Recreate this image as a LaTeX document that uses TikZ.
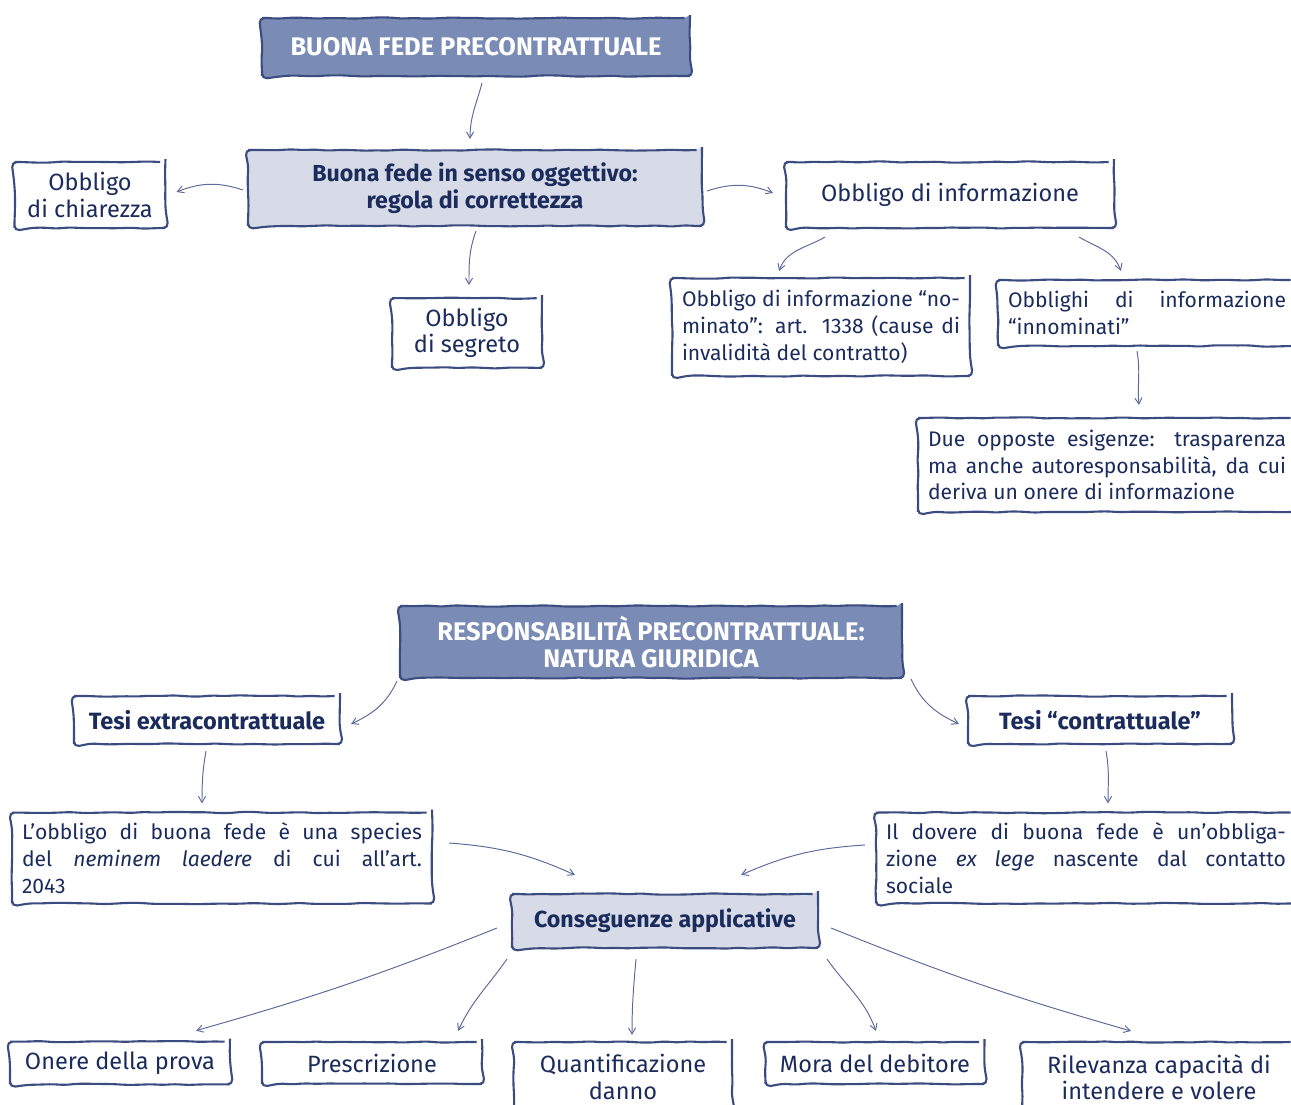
\documentclass[tikz,border=0pt]{standalone}
\usepackage{fontspec}
\setmainfont{Fira Sans}
\usetikzlibrary{arrows}
\usetikzlibrary{calc}
\usetikzlibrary{decorations.pathmorphing}
\definecolor{navy}{HTML}{1B2C5C}
\definecolor{boxline}{HTML}{3B4C80}
\definecolor{titlefill}{HTML}{7A8CB5}
\definecolor{keyfill}{HTML}{D6DBE7}
\definecolor{arrowline}{HTML}{5B6A98}
\newcommand\mapfont{\fontsize{13.4}{15}\selectfont}
\newcommand\parfont{\fontsize{12}{15.3}\selectfont}
\tikzset{
	main node/.style={draw=boxline,line width=1.2pt,rounded corners=3pt,
		decorate,decoration={random steps,segment length=7pt,amplitude=0.4pt},
		fill=white,inner sep=0.2cm,align=center,text=navy,font=\mapfont},
	key node/.style={main node,fill=keyfill,font=\fontsize{13.2}{15.5}\selectfont\bfseries},
	bold node/.style={main node,font=\fontsize{13.4}{15.5}\selectfont\bfseries},
	title node/.style={main node,fill=titlefill,text=white,font=\fontsize{14.5}{15.5}\selectfont\bfseries},
	text node/.style={main node,align=justify,font=\parfont},
	arr/.style={->,draw=arrowline,line width=0.55pt}
}
\pgfmathsetseed{7}

\begin{document}
\begin{tikzpicture}[x=0.02cm,y=-0.02cm,>=angle 60]
	\useasboundingbox (0,0) rectangle (1291,1105);
	\clip (0,0) rectangle (1291,1105);
	% buona fede precontrattuale
	\node [title node,minimum width=8.56cm,minimum height=1.16cm] (t1) at (476,47) {BUONA FEDE PRECONTRATTUALE};
	\node [key node,minimum width=9.08cm,minimum height=1.52cm] (bf) at (475,188) {Buona fede in senso oggettivo:\\regola di correttezza};
	\node [main node,minimum width=3.02cm,minimum height=1.32cm] (ch) at (90,195) {Obbligo\\di chiarezza};
	\node [main node,minimum width=3.0cm,minimum height=1.32cm] (seg) at (467,333) {Obbligo\\di segreto};
	\node [main node,minimum width=6.56cm,minimum height=1.32cm] (inf) at (950,195) {Obbligo di informazione};
	\node [text node,text width=5.56cm,minimum height=1.96cm] (nom) at (821,327) {Obbligo di informazione “no-\linebreak minato”: art. 1338 (cause di\linebreak invalidità del contratto)};
	\node [text node,text width=5.56cm,minimum height=1.32cm] (inn) at (1147,313) {Obblighi di informazione\linebreak “innominati”};
	\node [text node,text width=7.16cm,minimum height=1.88cm] (due) at (1107,465) {Due opposte esigenze: trasparenza\linebreak ma anche autoresponsabilità, da cui\linebreak deriva un onere di informazione};
	% responsabilita precontrattuale
	\node [title node,minimum width=10.04cm,minimum height=1.44cm] (t2) at (651,642) {RESPONSABILITÀ PRECONTRATTUALE:\\NATURA GIURIDICA};
	\node [bold node,minimum width=5.32cm,minimum height=0.96cm] (ex) at (207,720) {Tesi extracontrattuale};
	\node [bold node,minimum width=5.28cm,minimum height=0.96cm] (con) at (1100,720) {Tesi “contrattuale”};
	\node [text node,text width=8.0cm,minimum height=1.76cm] (lob) at (222,858) {L’obbligo di buona fede è una species\linebreak del \textit{neminem laedere} di cui all’art.\linebreak 2043};
	\node [text node,text width=8.0cm,minimum height=1.76cm] (dov) at (1086,858) {Il dovere di buona fede è un’obbliga-\linebreak zione \textit{ex lege} nascente dal contatto\linebreak sociale};
	\node [key node,minimum width=6.12cm,minimum height=1.08cm] (cons) at (665,921) {Conseguenze applicative};
	\node [main node,minimum width=4.4cm,minimum height=0.84cm] (on) at (120,1063) {Onere della prova};
	\node [main node,minimum width=4.4cm,minimum height=0.84cm] (pr) at (372,1063) {Prescrizione};
	\node [main node,minimum width=4.36cm,minimum height=1.4cm] (qu) at (623,1077) {Quantificazione\\danno};
	\node [main node,minimum width=4.38cm,minimum height=0.84cm] (mo) at (875,1063) {Mora del debitore};
	\node [main node,minimum width=5.48cm,minimum height=1.4cm] (ri) at (1159,1077) {Rilevanza capacità di\\intendere e volere};
	% frecce
	\draw [arr] ($(t1.south)+(6,6)$) to[out=-105,in=90] ($(bf.north)+(-5,-10)$);
	\draw [arr] ($(bf.west)+(-4,2)$) to[bend right=20] ($(ch.east)+(10,-3)$);
	\draw [arr] ($(bf.south)+(1,4)$) to[out=-110,in=90] ($(seg.north)+(2,-12)$);
	\draw [arr] ($(bf.east)+(4,3)$) to[bend left=20] ($(inf.west)+(-12,-2)$);
	\draw [arr] ($(inf.south west)+(40,8)$) to[out=-150,in=70] ($(nom.north west)+(108,-6)$);
	\draw [arr] ($(inf.south east)+(-36,8)$) to[out=-30,in=110] ($(inn.north west)+(124,-8)$);
	\draw [arr] ($(inn.south west)+(140,4)$) to[out=-80,in=95] ($(due.north west)+(222,-12)$);
	\draw [arr] ($(t2.south west)+(-2,2)$) to[out=-115,in=25] ($(ex.east)+(10,4)$);
	\draw [arr] ($(t2.south east)+(8,0)$) to[out=-65,in=155] ($(con.west)+(-8,4)$);
	\draw [arr] ($(ex.south)+(-1,6)$) to[out=-100,in=90] ($(lob.north)+(-20,-8)$);
	\draw [arr] ($(con.south)+(6,6)$) to[out=-80,in=90] ($(dov.north)+(22,-8)$);
	\draw [arr] ($(lob.east)+(16,-15)$) to[bend left=10] ($(cons.north west)+(64,-18)$);
	\draw [arr] ($(dov.west)+(-10,-13)$) to[bend right=10] ($(cons.north east)+(-78,-18)$);
	\draw [arr] ($(cons.west)+(-14,7)$) to[bend left=3] ($(on.north)+(76,-10)$);
	\draw [arr] ($(cons.south west)+(-4,10)$) to[out=-125,in=65] ($(pr.north)+(86,-10)$);
	\draw [arr] ($(cons.south)+(-29,10)$) to[out=-95,in=90] ($(qu.north)+(9,-6)$);
	\draw [arr] ($(cons.south east)+(8,10)$) to[out=-55,in=110] ($(mo.north)+(1,-10)$);
	\draw [arr] ($(cons.east)+(12,7)$) to[bend right=3] ($(ri.north west)+(110,-10)$);
\end{tikzpicture}
\end{document}
